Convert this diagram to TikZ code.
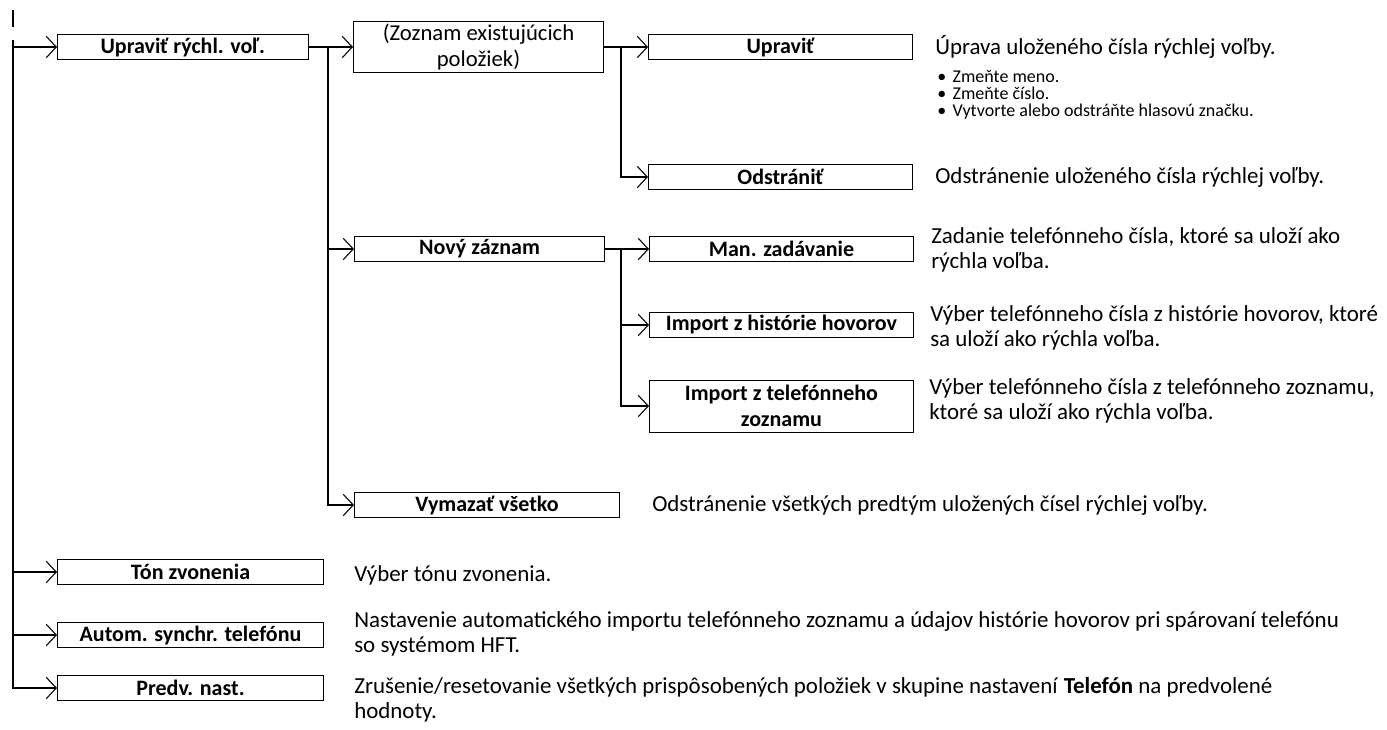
\documentclass[tikz,border=0pt]{standalone}
\usepackage{fontspec}
\setmainfont{Carlito}
\usetikzlibrary{arrows.meta,positioning}
\begin{document}
\begin{tikzpicture}[x=0.75pt,y=-0.75pt,>={Straight Barb[length=7.5pt,width=16pt,line width=0.8pt]},
	box/.style={draw,line width=0.75pt,inner sep=0pt,minimum height=18.75pt,anchor=west,align=center,font=\fontsize{16.5pt}{19.5pt}\selectfont\bfseries},
	desc/.style={inner sep=0pt,anchor=west,align=left,font=\fontsize{17.2pt}{18.75pt}\selectfont},
	bul/.style={inner sep=0pt,anchor=west,align=left,font=\fontsize{13.5pt}{12.75pt}\selectfont},
	link/.style={->,line width=1.5pt}]
	\useasboundingbox (0,0) rectangle (1387,729);
	% boxes
	\node[box,minimum width=188pt] (upr) at (57,47) {Upraviť rýchl. voľ.};
	\node[box,minimum width=187.5pt,minimum height=38pt,font=\fontsize{17pt}{19.5pt}\selectfont] (zoz) at (353,47) {(Zoznam existujúcich\\položiek)};
	\node[box,minimum width=198pt] (uprv) at (648,47) {Upraviť};
	\node[box,minimum width=198pt] (odst) at (648,177) {Odstrániť};
	\node[box,minimum width=187.5pt] (novy) at (354,249) {Nový záznam};
	\node[box,minimum width=198pt] (man) at (649,249) {Man. zadávanie};
	\node[box,minimum width=198pt] (imph) at (649,325) {Import z histórie hovorov};
	\node[box,minimum width=198pt,minimum height=39pt] (impt) at (649,406) {Import z telefónneho\\zoznamu};
	\node[box,minimum width=198.75pt] (vym) at (354,505) {Vymazať všetko};
	\node[box,minimum width=199.5pt] (ton) at (57,572) {Tón zvonenia};
	\node[box,minimum width=199.5pt] (sync) at (57,635) {Autom. synchr. telefónu};
	\node[box,minimum width=199.5pt] (pred) at (57,688) {Predv. nast.};
	% descriptions
	\node[desc] (d-uprv) at (935,47) {Úprava uloženého čísla rýchlej voľby.};
	\node[bul] (d-bul) at (937,95) {\makebox[11.5pt][l]{•}Zmeňte meno.\\\makebox[11.5pt][l]{•}Zmeňte číslo.\\\makebox[11.5pt][l]{•}Vytvorte alebo odstráňte hlasovú značku.};
	\node[desc] (d-odst) at (935,177) {Odstránenie uloženého čísla rýchlej voľby.};
	\node[desc] (d-man) at (931,250) {Zadanie telefónneho čísla, ktoré sa uloží ako\\rýchla voľba.};
	\node[desc] (d-imph) at (930,328) {Výber telefónneho čísla z histórie hovorov, ktoré\\sa uloží ako rýchla voľba.};
	\node[desc] (d-impt) at (929,401) {Výber telefónneho čísla z telefónneho zoznamu,\\ktoré sa uloží ako rýchla voľba.};
	\node[desc] (d-vym) at (652,505) {Odstránenie všetkých predtým uložených čísel rýchlej voľby.};
	\node[desc] (d-ton) at (354,575) {Výber tónu zvonenia.};
	\node[desc] (d-sync) at (354,634) {Nastavenie automatického importu telefónneho zoznamu a údajov histórie hovorov pri spárovaní telefónu\\so systémom HFT.};
	\node[desc] (d-pred) at (354,700) {Zrušenie/resetovanie všetkých prispôsobených položiek v skupine nastavení \textbf{Telefón} na predvolené\\hodnoty.};
	% connectors
	\coordinate (tick1) at (13,10);
	\coordinate (tick2) at (13,27);
	\coordinate (top) at (13,40);
	\coordinate (s1) at (328,47);
	\coordinate (s2) at (621,47);
	\coordinate (s3) at (621,249);
	\draw[line width=1.5pt] (tick1) -- (tick2);
	\draw[link] (top) |- (pred.west);
	\foreach \n in {upr,ton,sync}
		\draw[link] (top |- \n.west) -- (\n.west);
	\draw[link] (upr.east) -- (zoz.west);
	\draw[link] (s1) |- (vym.west);
	\draw[link] (s1 |- novy.west) -- (novy.west);
	\draw[link] (zoz.east) -- (uprv.west);
	\draw[link] (s2) |- (odst.west);
	\draw[link] (novy.east) -- (man.west);
	\draw[link] (s3) |- (impt.west);
	\draw[link] (s3 |- imph.west) -- (imph.west);
\end{tikzpicture}
\end{document}
